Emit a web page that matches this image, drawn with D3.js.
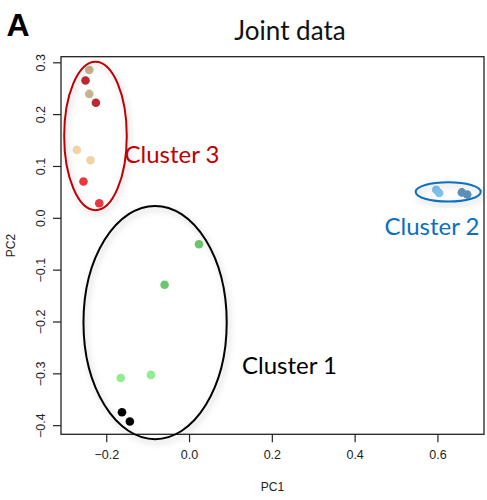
<!DOCTYPE html>
<html>
<head>
<meta charset="utf-8">
<script src="https://cdn.jsdelivr.net/npm/d3@7"></script>
<style>
  body { margin: 0; background: #fff; }
  svg { display: block; }
</style>
</head>
<body>
<div id="chart"></div>
<script>
// PCA scores
var pc1 = [-0.241, -0.250, -0.241, -0.225, -0.271, -0.238, -0.255, -0.217,
           0.024, -0.059, -0.165, -0.092, -0.162, -0.143,
           0.597, 0.604, 0.659, 0.672];
var pc2 = [0.285, 0.265, 0.239, 0.222, 0.131, 0.111, 0.070, 0.028,
           -0.051, -0.129, -0.309, -0.303, -0.375, -0.393,
           0.054, 0.048, 0.049, 0.045];
var groups = ["tan", "darkred", "tan", "darkred", "lighttan", "lighttan", "red", "red",
              "green", "green", "lightgreen", "lightgreen", "black", "black",
              "lightblue", "lightblue", "steel", "steel"];

// cluster ellipses (data units)
var clusterNames = ["Cluster 1", "Cluster 2", "Cluster 3"];
var clusterCx = [-0.082, 0.626, -0.226];
var clusterCy = [-0.202, 0.050, 0.158];
var clusterRx = [0.173, 0.0785, 0.0756];
var clusterRy = [0.225, 0.0187, 0.1432];

var xTicks = [-0.2, 0.0, 0.2, 0.4, 0.6];
var yTicks = [-0.4, -0.3, -0.2, -0.1, 0.0, 0.1, 0.2, 0.3];

var W = 487, H = 500;
var svg = d3.select("#chart").append("svg").attr("width", W).attr("height", H);

var defs = svg.append("defs");
var f = defs.append("filter").attr("id", "shadow")
  .attr("x", "-20%").attr("y", "-20%").attr("width", "150%").attr("height", "150%");
f.append("feDropShadow").attr("dx", 2).attr("dy", 3).attr("stdDeviation", 3)
  .attr("flood-color", "#000").attr("flood-opacity", 0.22);

var x = d3.scaleLinear().domain([-0.3093, 0.7125]).range([61, 484]);
var y = d3.scaleLinear().domain([-0.4176, 0.3108]).range([434.3, 56.7]);

var color = d3.scaleOrdinal()
  .domain(["tan", "darkred", "lighttan", "red", "green", "lightgreen", "black", "lightblue", "steel"])
  .range(["#c9b38f", "#bb2a30", "#efd4a8", "#e8383c", "#6cc46c", "#8fee8f", "#000000", "#7fc0ee", "#5f8fb8"]);

var fmt = function(d) { return d3.format(".1f")(d); };

// box
svg.append("rect")
  .attr("x", x.range()[0]).attr("y", y.range()[1])
  .attr("width", x.range()[1] - x.range()[0])
  .attr("height", y.range()[0] - y.range()[1])
  .attr("fill", "none").attr("stroke", "#222").attr("stroke-width", 1.3);

// axes
var xAxis = svg.append("g")
  .attr("transform", "translate(0," + y.range()[0] + ")")
  .call(d3.axisBottom(x).tickValues(xTicks).tickFormat(fmt).tickSize(8).tickPadding(8));
var yAxis = svg.append("g")
  .attr("transform", "translate(" + x.range()[0] + ",0)")
  .call(d3.axisLeft(y).tickValues(yTicks).tickFormat(fmt).tickSize(8).tickPadding(4));

[xAxis, yAxis].forEach(function(a) {
  a.select(".domain").remove();
  a.selectAll("line").attr("stroke", "#222").attr("stroke-width", 1.2);
  a.selectAll("text").attr("font-family", "Liberation Sans, Arial, sans-serif")
    .attr("font-size", 12.5).attr("fill", "#222");
});
// R style: y tick labels run parallel to the axis
yAxis.selectAll("text")
  .attr("x", 0).attr("y", 0).attr("dy", 0)
  .attr("text-anchor", "middle")
  .attr("transform", "translate(-16.5,0) rotate(-90)");

// axis titles
svg.append("text").text("PC1")
  .attr("x", (x.range()[0] + x.range()[1]) / 2).attr("y", 490.5)
  .attr("text-anchor", "middle").attr("font-family", "Liberation Sans, Arial, sans-serif")
  .attr("font-size", 12).attr("fill", "#222");
svg.append("text").text("PC2")
  .attr("transform", "translate(14.5," + (y.range()[0] + y.range()[1]) / 2 + ") rotate(-90)")
  .attr("text-anchor", "middle").attr("font-family", "Liberation Sans, Arial, sans-serif")
  .attr("font-size", 12).attr("fill", "#222");

// points
var pts = pc1.map(function(v, i) { return { pc1: v, pc2: pc2[i], g: groups[i] }; });
svg.append("g").selectAll("circle").data(pts).enter()
  .append("circle")
  .attr("cx", function(d) { return x(d.pc1); })
  .attr("cy", function(d) { return y(d.pc2); })
  .attr("r", 4.3)
  .attr("fill", function(d) { return color(d.g); });

// cluster ellipses
var ellColor = ["#000000", "#0a6fc0", "#c00000"];
svg.append("g").selectAll("ellipse").data(clusterNames).enter()
  .append("ellipse")
  .attr("cx", function(d, i) { return x(clusterCx[i]); })
  .attr("cy", function(d, i) { return y(clusterCy[i]); })
  .attr("rx", function(d, i) { return x(clusterCx[i] + clusterRx[i]) - x(clusterCx[i]); })
  .attr("ry", function(d, i) { return y(clusterCy[i]) - y(clusterCy[i] + clusterRy[i]); })
  .attr("fill", "none")
  .attr("stroke", function(d, i) { return ellColor[i]; })
  .attr("stroke-width", 2)
  .attr("filter", "url(#shadow)");

// cluster labels
var labelPos = [[242, 374.3], [384.5, 235], [124.5, 163.3]];
svg.append("g").selectAll("text").data(clusterNames).enter()
  .append("text")
  .text(function(d) { return d; })
  .attr("x", function(d, i) { return labelPos[i][0]; })
  .attr("y", function(d, i) { return labelPos[i][1]; })
  .attr("font-family", "Lato, Open Sans, sans-serif")
  .attr("font-size", 24)
  .attr("fill", function(d, i) { return ellColor[i]; });

// title and panel letter
svg.append("text").text("Joint data")
  .attr("x", 290).attr("y", 39.5).attr("text-anchor", "middle")
  .attr("font-family", "Lato, Open Sans, sans-serif").attr("font-size", 26).attr("fill", "#111");
svg.append("text").text("A")
  .attr("x", 6.5).attr("y", 35.7)
  .attr("font-family", "Liberation Sans, Arial, sans-serif").attr("font-weight", "bold")
  .attr("font-size", 32).attr("fill", "#000");
</script>
</body>
</html>
